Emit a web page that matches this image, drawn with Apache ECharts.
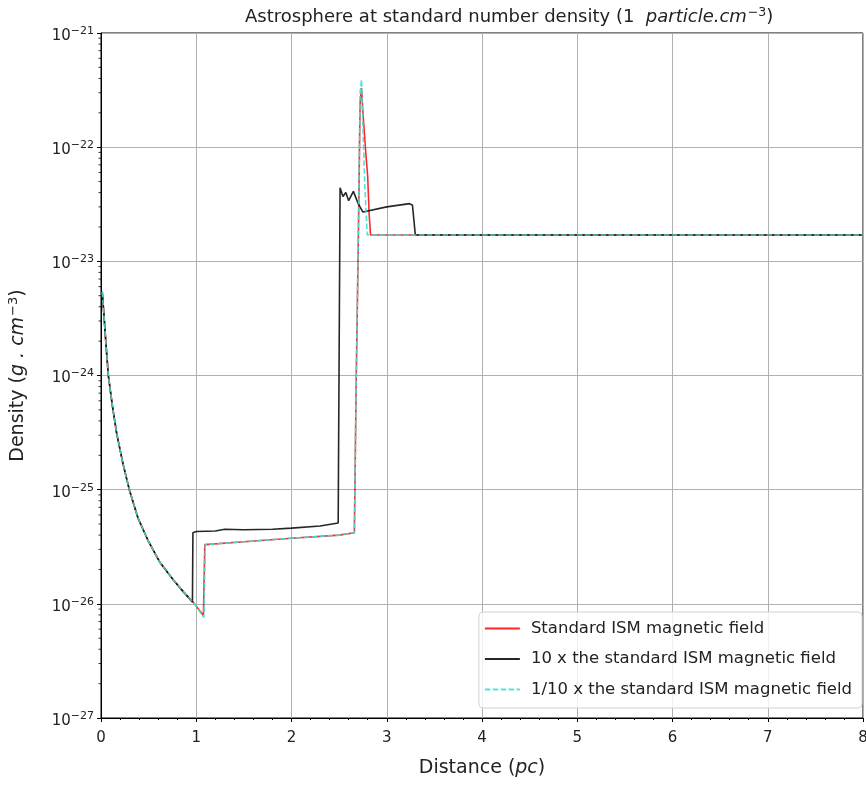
<!DOCTYPE html>
<html>
<head>
<meta charset="utf-8">
<script src="https://cdn.jsdelivr.net/npm/echarts@6/dist/echarts.min.js"></script>
<style>html,body{margin:0;padding:0;background:#fff;}#c{width:866px;height:787px;}</style>
</head>
<body>
<div id="c"></div>
<script>
// Standard ISM magnetic field
const stdX = [0.013,0.03,0.05,0.077,0.12,0.165,0.23,0.297,0.39,0.5,0.62,0.76,0.87,0.97,1.075,1.09,1.5,2.0,2.5,2.66,2.68,2.70,2.72,2.735,2.75,2.78,2.80,2.815,2.83,8.0];
const stdY = [5.4e-24,3.5e-24,2.0e-24,1.0e-24,5.4e-25,3.1e-25,1.7e-25,1.0e-25,5.6e-26,3.5e-26,2.3e-26,1.62e-26,1.26e-26,1.03e-26,7.9e-27,3.3e-26,3.5e-26,3.75e-26,4.0e-26,4.2e-26,1.0e-24,1.2e-23,2.4e-22,3.3e-22,2.0e-22,8.9e-23,5.5e-23,2.6e-23,1.7e-23,1.7e-23];
// 10 x the standard ISM magnetic field
const strongX = [0.013,0.03,0.05,0.077,0.12,0.165,0.23,0.297,0.39,0.5,0.62,0.76,0.87,0.96,0.965,1.0,1.2,1.3,1.5,1.8,2.0,2.3,2.49,2.51,2.54,2.57,2.60,2.65,2.70,2.75,3.0,3.24,3.27,3.30,8.0];
const strongY = [5.4e-24,3.5e-24,2.0e-24,1.0e-24,5.4e-25,3.1e-25,1.7e-25,1.0e-25,5.6e-26,3.5e-26,2.3e-26,1.62e-26,1.26e-26,1.04e-26,4.2e-26,4.3e-26,4.35e-26,4.5e-26,4.45e-26,4.5e-26,4.6e-26,4.8e-26,5.1e-26,4.4e-23,3.7e-23,4.0e-23,3.4e-23,4.1e-23,3.2e-23,2.7e-23,3.0e-23,3.2e-23,3.1e-23,1.7e-23,1.7e-23];
// 1/10 x the standard ISM magnetic field
const weakX = [0.013,0.03,0.05,0.077,0.12,0.165,0.23,0.297,0.39,0.5,0.62,0.76,0.87,0.97,1.08,1.095,1.5,2.0,2.5,2.66,2.68,2.70,2.72,2.735,2.75,2.77,2.795,8.0];
const weakY = [5.4e-24,3.5e-24,2.0e-24,1.0e-24,5.4e-25,3.1e-25,1.7e-25,1.0e-25,5.6e-26,3.5e-26,2.3e-26,1.62e-26,1.26e-26,1.03e-26,7.6e-27,3.3e-26,3.5e-26,3.75e-26,4.0e-26,4.2e-26,1.0e-24,1.5e-23,3.0e-22,3.9e-22,1.5e-22,4.5e-23,1.7e-23,1.7e-23];

const seriesNames = ['Standard ISM magnetic field','10 x the standard ISM magnetic field','1/10 x the standard ISM magnetic field'];
const xTickValues = [0,1,2,3,4,5,6,7,8];
const yExponents = [-27,-26,-25,-24,-23,-22,-21];
const minorMantissas = [2,3,4,5,6,7,8,9];

// y axis is drawn on log10 scale (decades)
const zipLog = (xs, ys) => xs.map((x, i) => [x, Math.log10(ys[i])]);
const yMinor = [];
yExponents.slice(0, -1).forEach(e => minorMantissas.forEach(m => yMinor.push([0, e + Math.log10(m)])));

const chart = echarts.init(document.getElementById('c'));
const font = 'DejaVu Sans';
const col = '#222';
chart.setOption({
  animation: false,
  textStyle: {fontFamily: font},
  title: {
    text: 'Astrosphere at standard number density (1  {i|particle.cm}{s|−3}{n|)}',
    left: 240, top: 1,
    textStyle: {
      fontFamily: font, fontSize: 18, fontWeight: 'normal', color: col,
      rich: {
        i: {fontFamily: font, fontStyle: 'italic', fontSize: 18, color: col},
        s: {fontFamily: font, fontSize: 12.5, color: col, padding: [0, 0, 10, 1]},
        n: {fontFamily: font, fontSize: 18, color: col}
      }
    }
  },
  grid: {left: 101, right: 3, top: 33, bottom: 69, show: true, borderColor: '#000', borderWidth: 1,
    backgroundColor: 'transparent', containLabel: false, outerBoundsMode: 'none'},
  legend: {
    data: seriesNames,
    orient: 'vertical',
    right: 4, bottom: 79,
    itemWidth: 35, itemHeight: 14, itemGap: 13.5,
    padding: [8, 10, 10, 5],
    backgroundColor: 'rgba(255,255,255,0.8)',
    borderColor: '#d0d0d0', borderWidth: 1, borderRadius: 4,
    itemStyle: {opacity: 0},
    textStyle: {fontFamily: font, fontSize: 16.5, color: col, padding: [0, 0, 0, 6]}
  },
  xAxis: {
    type: 'value', min: 0, max: 8, interval: 1,
    name: 'Distance ({i|pc})', nameLocation: 'middle', nameGap: 41,
    nameTextStyle: {fontFamily: font, fontSize: 19, color: col, rich: {i: {fontFamily: font, fontStyle: 'italic', fontSize: 19, color: col}}},
    axisLine: {show: true, lineStyle: {color: '#000', width: 1}},
    axisTick: {show: true, length: 4, inside: false, lineStyle: {color: '#000'}},
    minorTick: {show: true, splitNumber: 5, length: 2, lineStyle: {color: '#000'}},
    splitLine: {show: true, lineStyle: {color: '#b0b0b0', width: 1}},
    axisLabel: {fontFamily: font, fontSize: 15, color: col, margin: 13}
  },
  yAxis: {
    type: 'value', min: -27, max: -21, interval: 1,
    name: 'Density ({i|g . cm}{s|−3})', nameLocation: 'middle', nameGap: 71,
    nameTextStyle: {fontFamily: font, fontSize: 19, color: col, rich: {
      i: {fontFamily: font, fontStyle: 'italic', fontSize: 19, color: col},
      s: {fontFamily: font, fontSize: 13, color: col, padding: [0, 0, 10, 1]}
    }},
    axisLine: {show: true, lineStyle: {color: '#000', width: 1}},
    axisTick: {show: true, length: 4, lineStyle: {color: '#000'}},
    splitLine: {show: true, lineStyle: {color: '#b0b0b0', width: 1}},
    axisLabel: {
      margin: 7,
      formatter: v => '{b|10}{s|' + String(Math.round(v)).replace('-', '−') + '}',
      rich: {
        b: {fontFamily: font, fontSize: 15, color: col, padding: [6, 0, 0, 0]},
        s: {fontFamily: font, fontSize: 11, color: col, padding: [0, 0, 4, 0]}
      }
    }
  },
  series: [
    {name: seriesNames[0], type: 'line', data: zipLog(stdX, stdY), showSymbol: false, symbol: 'none',
      lineStyle: {color: '#ff0000', width: 1.6, opacity: 0.85}, itemStyle: {color: '#ff0000'}, z: 2},
    {name: seriesNames[1], type: 'line', data: zipLog(strongX, strongY), showSymbol: false, symbol: 'none',
      lineStyle: {color: '#000000', width: 1.6, opacity: 0.85}, itemStyle: {color: '#000000'}, z: 3},
    {name: seriesNames[2], type: 'line', data: zipLog(weakX, weakY), showSymbol: false, symbol: 'none',
      lineStyle: {color: '#40e0d0', width: 1.6, type: [5.5, 2.4], opacity: 0.9}, itemStyle: {color: '#40e0d0'}, z: 4},
    {type: 'custom', silent: true, clip: false, data: yMinor, z: 5,
      renderItem: (params, api) => {
        const p = api.coord([0, api.value(1)]);
        return {type: 'line', shape: {x1: p[0] - 2.5, y1: p[1], x2: p[0], y2: p[1]}, style: {stroke: '#000', lineWidth: 0.8}};
      }}
  ]
});
</script>
</body>
</html>
